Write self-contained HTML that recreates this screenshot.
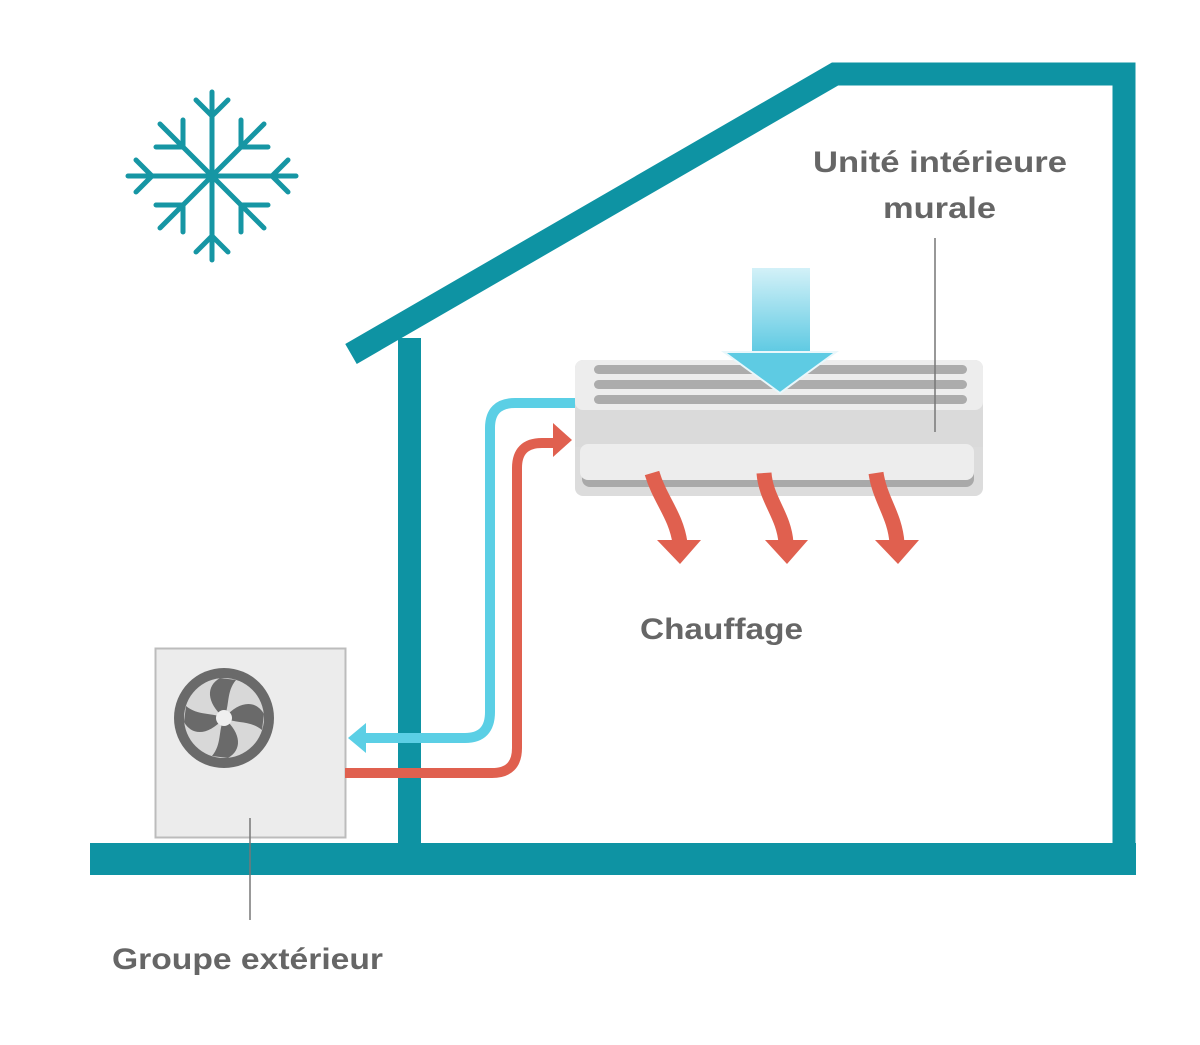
<!DOCTYPE html>
<html><head><meta charset="utf-8"><style>
html,body{margin:0;padding:0;background:#fff;}
svg{display:block}
text{font-family:"Liberation Sans",sans-serif;fill:#666;font-weight:bold;}
</style></head><body>
<svg width="1200" height="1045" viewBox="0 0 1200 1045" xmlns="http://www.w3.org/2000/svg">
<defs>
<linearGradient id="bg" x1="0" y1="0" x2="0" y2="1">
<stop offset="0" stop-color="#d3f1f8"/><stop offset="1" stop-color="#5cc9e2"/>
</linearGradient>
</defs>
<g stroke="#1696a4" stroke-width="5" stroke-linecap="round" fill="none">
<g id="arm">
<line x1="212" y1="176" x2="212" y2="92"/>
<polyline points="196,100 212,116 228,100"/>
</g>
<use href="#arm" transform="rotate(90 212 176)"/>
<use href="#arm" transform="rotate(180 212 176)"/>
<use href="#arm" transform="rotate(270 212 176)"/>
<g id="d">
<line x1="212" y1="176" x2="160" y2="124"/>
<polyline points="183,120 183,147 156,147"/>
</g>
<use href="#d" transform="rotate(90 212 176)"/>
<use href="#d" transform="rotate(180 212 176)"/>
<use href="#d" transform="rotate(270 212 176)"/>
</g>
<g fill="none" stroke="#0e93a3" stroke-width="23" stroke-linejoin="miter">
<polyline points="351,354 835,74 1124,74 1124,860"/>
</g>
<rect x="398" y="338" width="23" height="510" fill="#0e93a3"/>
<rect x="90" y="843" width="1046" height="32" fill="#0e93a3"/>
<rect x="155.5" y="648.5" width="190" height="189" fill="#ececec" stroke="#bcbcbc" stroke-width="2"/>
<circle cx="224" cy="718" r="50" fill="#6a6a6a"/>
<circle cx="224" cy="718" r="40" fill="#d8d8d8"/>
<g fill="#6a6a6a">
<path d="M224,718 C206,702 206,686 220,678 L236,680 C226,692 230,705 224,718Z"/>
<path d="M224,718 C240,700 256,700 264,714 L262,730 C250,720 237,724 224,718Z"/>
<path d="M224,718 C242,734 242,750 228,758 L212,756 C222,744 218,731 224,718Z"/>
<path d="M224,718 C208,736 192,736 184,722 L186,706 C198,716 211,712 224,718Z"/>
</g>
<circle cx="224" cy="718" r="8" fill="#efefef"/>
<line x1="250" y1="818" x2="250" y2="920" stroke="#777" stroke-width="1.5"/>
<path d="M577,403 L515,403 Q490,403 490,428 L490,712 Q490,738 465,738 L362,738" fill="none" stroke="#5bcfe5" stroke-width="10"/>
<polygon points="348,738 366,723 366,753" fill="#5bcfe5"/>
<path d="M345,773 L492,773 Q517,773 517,748 L517,468 Q517,443 542,443 L556,443" fill="none" stroke="#e0604f" stroke-width="10"/>
<polygon points="572,440 553,423 553,457" fill="#e0604f"/>
<rect x="575" y="360" width="408" height="136" rx="8" fill="#dcdcdc"/>
<rect x="575" y="360" width="408" height="50" rx="8" fill="#ededed"/>
<rect x="594" y="365" width="373" height="9" rx="4.5" fill="#acacac"/>
<rect x="594" y="380" width="373" height="9" rx="4.5" fill="#acacac"/>
<rect x="594" y="395" width="373" height="9" rx="4.5" fill="#acacac"/>
<rect x="575" y="410" width="408" height="37" fill="#dadada"/>
<rect x="582" y="447" width="392" height="40" rx="8" fill="#a9a9a9"/>
<rect x="580" y="444" width="394" height="36" rx="8" fill="#ededed"/>
<rect x="752" y="268" width="58" height="86" fill="url(#bg)"/>
<polygon points="724,352 836,352 780,393" fill="#5ecbe3" stroke="#e9f7fb" stroke-width="2"/>
<line x1="935" y1="238" x2="935" y2="432" stroke="#777" stroke-width="1.5"/>
<g fill="none" stroke="#e0604f" stroke-width="15">
<path d="M652,473 C660,500 676,515 680,543"/>
<path d="M764,473 C766,500 784,515 786,543"/>
<path d="M876,473 C880,500 895,515 897,543"/>
</g>
<g fill="#e0604f">
<polygon points="657,540 701,540 680,564"/>
<polygon points="765,540 808,540 787,564"/>
<polygon points="875,540 919,540 898,564"/>
</g>
<text x="813" y="172" font-size="30" textLength="254" lengthAdjust="spacingAndGlyphs">Unité intérieure</text>
<text x="883" y="218" font-size="30" textLength="113" lengthAdjust="spacingAndGlyphs">murale</text>
<text x="640" y="639" font-size="30" textLength="163" lengthAdjust="spacingAndGlyphs">Chauffage</text>
<text x="112" y="969" font-size="30" textLength="271" lengthAdjust="spacingAndGlyphs">Groupe extérieur</text>
</svg>
</body></html>
